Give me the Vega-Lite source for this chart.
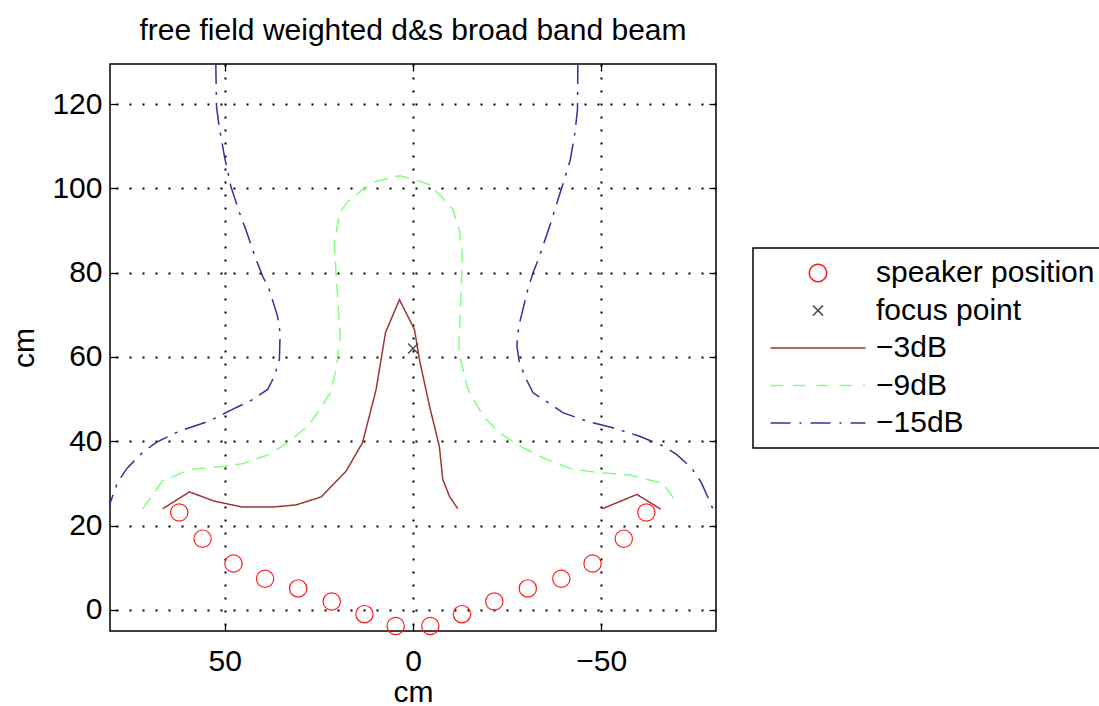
{
  "$schema": "https://vega.github.io/schema/vega-lite/v6.json",
  "width": 606,
  "height": 567,
  "autosize": {"type": "none"},
  "padding": {"left": 110, "top": 64, "right": 383, "bottom": 75},
  "background": "white",
  "title": {"text": "free field weighted d&s broad band beam", "anchor": "middle", "frame": "group", "font": "Liberation Sans", "fontSize": 30, "fontWeight": "normal", "color": "black", "baseline": "alphabetic", "offset": -7},
  "config": {
    "view": {"stroke": "black", "strokeWidth": 1.5},
    "axis": {
      "labelFont": "Liberation Sans", "labelFontSize": 30, "labelColor": "black",
      "titleFont": "Liberation Sans", "titleFontSize": 30, "titleFontWeight": "normal", "titleColor": "black",
      "domain": false, "tickColor": "black", "tickSize": -7, "tickWidth": 1.3,
      "gridColor": "black", "gridDash": [2, 11], "gridWidth": 2, "gridOpacity": 1
    },
    "legend": {
      "title": null, "orient": "none", "legendX": 643, "legendY": 184,
      "padding": 10, "strokeColor": "black", "fillColor": "white",
      "labelFont": "Liberation Sans", "labelFontSize": 30, "labelColor": "black",
      "labelOffset": 43, "symbolOffset": 40, "rowPadding": 7.5, "labelLimit": 400
    }
  },
  "datasets": {
    "speakers": [
      {"series": "speaker position", "x": 62.1, "y": 23.1},
      {"series": "speaker position", "x": 55.9, "y": 16.9},
      {"series": "speaker position", "x": 47.7, "y": 11.0},
      {"series": "speaker position", "x": 39.3, "y": 7.4},
      {"series": "speaker position", "x": 30.5, "y": 5.1},
      {"series": "speaker position", "x": 21.6, "y": 2.0},
      {"series": "speaker position", "x": 12.9, "y": -1.0},
      {"series": "speaker position", "x": 4.6, "y": -3.8},
      {"series": "speaker position", "x": -4.6, "y": -3.8},
      {"series": "speaker position", "x": -13.0, "y": -1.0},
      {"series": "speaker position", "x": -21.6, "y": 2.0},
      {"series": "speaker position", "x": -30.5, "y": 5.1},
      {"series": "speaker position", "x": -39.4, "y": 7.4},
      {"series": "speaker position", "x": -47.7, "y": 11.0},
      {"series": "speaker position", "x": -56.0, "y": 16.9},
      {"series": "speaker position", "x": -62.0, "y": 23.1}
    ],
    "focus": [
      {"series": "focus point", "x": 0, "y": 62}
    ],
    "contours": [
      {"series": "−3dB", "seg": "a", "i": 1, "x": 66.5, "y": 24.0},
      {"series": "−3dB", "seg": "a", "i": 2, "x": 59.4, "y": 28.0},
      {"series": "−3dB", "seg": "a", "i": 3, "x": 52.8, "y": 25.8},
      {"series": "−3dB", "seg": "a", "i": 4, "x": 45.3, "y": 24.4},
      {"series": "−3dB", "seg": "a", "i": 5, "x": 37.3, "y": 24.4},
      {"series": "−3dB", "seg": "a", "i": 6, "x": 31.1, "y": 24.9},
      {"series": "−3dB", "seg": "a", "i": 7, "x": 24.4, "y": 26.8},
      {"series": "−3dB", "seg": "a", "i": 8, "x": 17.8, "y": 32.9},
      {"series": "−3dB", "seg": "a", "i": 9, "x": 13.4, "y": 39.7},
      {"series": "−3dB", "seg": "a", "i": 10, "x": 9.8, "y": 52.3},
      {"series": "−3dB", "seg": "a", "i": 11, "x": 7.3, "y": 65.8},
      {"series": "−3dB", "seg": "a", "i": 12, "x": 3.6, "y": 73.6},
      {"series": "−3dB", "seg": "a", "i": 13, "x": -0.4, "y": 66.5},
      {"series": "−3dB", "seg": "a", "i": 14, "x": -1.7, "y": 59.4},
      {"series": "−3dB", "seg": "a", "i": 15, "x": -4.4, "y": 48.3},
      {"series": "−3dB", "seg": "a", "i": 16, "x": -7.0, "y": 38.8},
      {"series": "−3dB", "seg": "a", "i": 17, "x": -7.9, "y": 31.0},
      {"series": "−3dB", "seg": "a", "i": 18, "x": -9.7, "y": 26.9},
      {"series": "−3dB", "seg": "a", "i": 19, "x": -11.9, "y": 24.0},
      {"series": "−3dB", "seg": "b", "i": 20, "x": -50.3, "y": 24.0},
      {"series": "−3dB", "seg": "b", "i": 21, "x": -59.5, "y": 27.4},
      {"series": "−3dB", "seg": "b", "i": 22, "x": -65.8, "y": 23.9},

      {"series": "−9dB", "seg": "c", "i": 1, "x": 71.9, "y": 23.9},
      {"series": "−9dB", "seg": "c", "i": 2, "x": 66.5, "y": 30.6},
      {"series": "−9dB", "seg": "c", "i": 3, "x": 59.4, "y": 33.3},
      {"series": "−9dB", "seg": "c", "i": 4, "x": 49.9, "y": 34.1},
      {"series": "−9dB", "seg": "c", "i": 5, "x": 45.3, "y": 34.7},
      {"series": "−9dB", "seg": "c", "i": 6, "x": 38.2, "y": 36.9},
      {"series": "−9dB", "seg": "c", "i": 7, "x": 32.8, "y": 40.0},
      {"series": "−9dB", "seg": "c", "i": 8, "x": 27.5, "y": 44.0},
      {"series": "−9dB", "seg": "c", "i": 9, "x": 22.2, "y": 51.1},
      {"series": "−9dB", "seg": "c", "i": 10, "x": 20.4, "y": 57.0},
      {"series": "−9dB", "seg": "c", "i": 11, "x": 19.3, "y": 65.0},
      {"series": "−9dB", "seg": "c", "i": 12, "x": 20.4, "y": 79.1},
      {"series": "−9dB", "seg": "c", "i": 13, "x": 20.9, "y": 87.1},
      {"series": "−9dB", "seg": "c", "i": 14, "x": 19.5, "y": 94.2},
      {"series": "−9dB", "seg": "c", "i": 15, "x": 17.3, "y": 96.9},
      {"series": "−9dB", "seg": "c", "i": 16, "x": 13.4, "y": 99.7},
      {"series": "−9dB", "seg": "c", "i": 17, "x": 9.8, "y": 101.7},
      {"series": "−9dB", "seg": "c", "i": 18, "x": 3.6, "y": 103.0},
      {"series": "−9dB", "seg": "c", "i": 19, "x": 0.0, "y": 102.2},
      {"series": "−9dB", "seg": "c", "i": 20, "x": -4.4, "y": 100.9},
      {"series": "−9dB", "seg": "c", "i": 21, "x": -7.9, "y": 97.7},
      {"series": "−9dB", "seg": "c", "i": 22, "x": -10.6, "y": 95.0},
      {"series": "−9dB", "seg": "c", "i": 23, "x": -12.4, "y": 89.8},
      {"series": "−9dB", "seg": "c", "i": 24, "x": -13.1, "y": 83.9},
      {"series": "−9dB", "seg": "c", "i": 25, "x": -12.8, "y": 76.0},
      {"series": "−9dB", "seg": "c", "i": 26, "x": -12.2, "y": 63.4},
      {"series": "−9dB", "seg": "c", "i": 27, "x": -12.4, "y": 60.2},
      {"series": "−9dB", "seg": "c", "i": 28, "x": -14.6, "y": 52.3},
      {"series": "−9dB", "seg": "c", "i": 29, "x": -18.6, "y": 46.0},
      {"series": "−9dB", "seg": "c", "i": 30, "x": -23.0, "y": 42.0},
      {"series": "−9dB", "seg": "c", "i": 31, "x": -28.3, "y": 38.9},
      {"series": "−9dB", "seg": "c", "i": 32, "x": -34.5, "y": 36.1},
      {"series": "−9dB", "seg": "c", "i": 33, "x": -42.5, "y": 33.3},
      {"series": "−9dB", "seg": "c", "i": 34, "x": -49.6, "y": 32.6},
      {"series": "−9dB", "seg": "c", "i": 35, "x": -57.6, "y": 32.0},
      {"series": "−9dB", "seg": "c", "i": 36, "x": -66.4, "y": 30.0},
      {"series": "−9dB", "seg": "c", "i": 37, "x": -69.5, "y": 26.2},

      {"series": "−15dB", "seg": "d", "i": 1, "x": 52.4, "y": 130.0},
      {"series": "−15dB", "seg": "d", "i": 2, "x": 52.2, "y": 119.4},
      {"series": "−15dB", "seg": "d", "i": 3, "x": 51.5, "y": 114.7},
      {"series": "−15dB", "seg": "d", "i": 4, "x": 50.1, "y": 107.6},
      {"series": "−15dB", "seg": "d", "i": 5, "x": 48.4, "y": 100.5},
      {"series": "−15dB", "seg": "d", "i": 6, "x": 46.1, "y": 94.2},
      {"series": "−15dB", "seg": "d", "i": 7, "x": 44.4, "y": 90.2},
      {"series": "−15dB", "seg": "d", "i": 8, "x": 41.7, "y": 83.1},
      {"series": "−15dB", "seg": "d", "i": 9, "x": 39.9, "y": 79.1},
      {"series": "−15dB", "seg": "d", "i": 10, "x": 38.2, "y": 76.0},
      {"series": "−15dB", "seg": "d", "i": 11, "x": 36.0, "y": 69.7},
      {"series": "−15dB", "seg": "d", "i": 12, "x": 35.3, "y": 65.7},
      {"series": "−15dB", "seg": "d", "i": 13, "x": 35.5, "y": 59.4},
      {"series": "−15dB", "seg": "d", "i": 14, "x": 36.8, "y": 55.5},
      {"series": "−15dB", "seg": "d", "i": 15, "x": 38.6, "y": 52.3},
      {"series": "−15dB", "seg": "d", "i": 16, "x": 42.6, "y": 49.9},
      {"series": "−15dB", "seg": "d", "i": 17, "x": 48.8, "y": 47.2},
      {"series": "−15dB", "seg": "d", "i": 18, "x": 54.1, "y": 44.8},
      {"series": "−15dB", "seg": "d", "i": 19, "x": 62.1, "y": 42.4},
      {"series": "−15dB", "seg": "d", "i": 20, "x": 68.3, "y": 39.7},
      {"series": "−15dB", "seg": "d", "i": 21, "x": 71.9, "y": 37.3},
      {"series": "−15dB", "seg": "d", "i": 22, "x": 75.9, "y": 33.7},
      {"series": "−15dB", "seg": "d", "i": 23, "x": 78.5, "y": 30.2},
      {"series": "−15dB", "seg": "d", "i": 24, "x": 80.3, "y": 25.8},
      {"series": "−15dB", "seg": "d", "i": 25, "x": 81.5, "y": 22.5},
      {"series": "−15dB", "seg": "e", "i": 26, "x": -43.8, "y": 130.0},
      {"series": "−15dB", "seg": "e", "i": 27, "x": -43.7, "y": 118.7},
      {"series": "−15dB", "seg": "e", "i": 28, "x": -43.0, "y": 113.1},
      {"series": "−15dB", "seg": "e", "i": 29, "x": -41.8, "y": 106.8},
      {"series": "−15dB", "seg": "e", "i": 30, "x": -39.8, "y": 100.9},
      {"series": "−15dB", "seg": "e", "i": 31, "x": -38.5, "y": 97.3},
      {"series": "−15dB", "seg": "e", "i": 32, "x": -36.3, "y": 91.0},
      {"series": "−15dB", "seg": "e", "i": 33, "x": -33.6, "y": 83.9},
      {"series": "−15dB", "seg": "e", "i": 34, "x": -31.9, "y": 80.0},
      {"series": "−15dB", "seg": "e", "i": 35, "x": -30.5, "y": 76.0},
      {"series": "−15dB", "seg": "e", "i": 36, "x": -29.2, "y": 71.3},
      {"series": "−15dB", "seg": "e", "i": 37, "x": -28.1, "y": 67.3},
      {"series": "−15dB", "seg": "e", "i": 38, "x": -27.6, "y": 62.6},
      {"series": "−15dB", "seg": "e", "i": 39, "x": -28.3, "y": 58.6},
      {"series": "−15dB", "seg": "e", "i": 40, "x": -30.1, "y": 54.7},
      {"series": "−15dB", "seg": "e", "i": 41, "x": -31.9, "y": 51.5},
      {"series": "−15dB", "seg": "e", "i": 42, "x": -35.4, "y": 49.5},
      {"series": "−15dB", "seg": "e", "i": 43, "x": -39.8, "y": 46.8},
      {"series": "−15dB", "seg": "e", "i": 44, "x": -46.1, "y": 44.8},
      {"series": "−15dB", "seg": "e", "i": 45, "x": -53.1, "y": 43.2},
      {"series": "−15dB", "seg": "e", "i": 46, "x": -60.2, "y": 41.2},
      {"series": "−15dB", "seg": "e", "i": 47, "x": -66.4, "y": 38.9},
      {"series": "−15dB", "seg": "e", "i": 48, "x": -70.0, "y": 36.9},
      {"series": "−15dB", "seg": "e", "i": 49, "x": -74.0, "y": 33.7},
      {"series": "−15dB", "seg": "e", "i": 50, "x": -76.6, "y": 30.2},
      {"series": "−15dB", "seg": "e", "i": 51, "x": -78.4, "y": 26.6},
      {"series": "−15dB", "seg": "e", "i": 52, "x": -79.7, "y": 23.9},
      {"series": "−15dB", "seg": "e", "i": 53, "x": -81.5, "y": 21.0}
    ]
  },
  "encoding": {
    "color": {
      "field": "series", "type": "nominal",
      "scale": {
        "domain": ["speaker position", "focus point", "−3dB", "−9dB", "−15dB"],
        "range": ["#ff1a1a", "#444444", "#9e3535", "#80ff80", "#30309f"]
      },
      "legend": {
        "encode": {
          "legend": {"update": {"strokeWidth": {"value": 1.5}}},
          "symbols": {
            "update": {
              "shape": {"signal": "datum.value === 'speaker position' ? 'circle' : datum.value === 'focus point' ? 'M-1,-1L1,1M1,-1L-1,1' : 'M-5,0L5,0'"},
              "size": {"signal": "datum.value === 'speaker position' ? 300 : datum.value === 'focus point' ? 100 : 361"},
              "strokeDash": {"signal": "datum.value === '−9dB' ? [12, 11] : datum.value === '−15dB' ? [20, 9, 2, 9] : [1, 0]"},
              "fill": {"value": "transparent"},
              "stroke": {"scale": "color", "field": "value"},
              "strokeWidth": {"value": 1.5},
              "opacity": {"value": 1}
            }
          }
        }
      }
    }
  },
  "layer": [
    {
      "data": {"name": "contours"},
      "mark": {"type": "line", "strokeWidth": 1.5, "clip": true},
      "encoding": {
        "x": {
          "field": "x", "type": "quantitative",
          "scale": {"domain": [-80.5, 80.5], "reverse": true, "nice": false, "zero": false},
          "axis": {"orient": "bottom", "values": [-50, 0, 50], "title": "cm", "labelPadding": 22, "titlePadding": 1, "grid": true}
        },
        "y": {
          "field": "y", "type": "quantitative",
          "scale": {"domain": [-5, 129.5], "nice": false, "zero": false},
          "axis": {"orient": "left", "values": [0, 20, 40, 60, 80, 100, 120], "title": "cm", "labelPadding": 15, "titlePadding": 12, "grid": true}
        },
        "detail": {"field": "seg", "type": "nominal"},
        "order": {"field": "i", "type": "quantitative"},
        "strokeDash": {
          "field": "series", "type": "nominal",
          "scale": {"domain": ["−3dB", "−9dB", "−15dB"], "range": [[1, 0], [14, 8], [22, 8, 3, 8]]},
          "legend": null
        }
      }
    },
    {
      "data": {"name": "speakers"},
      "mark": {"type": "point", "shape": "circle", "filled": false, "size": 300, "strokeWidth": 1.2, "opacity": 1},
      "encoding": {
        "x": {"field": "x", "type": "quantitative", "axis": null},
        "y": {"field": "y", "type": "quantitative", "axis": null}
      }
    },
    {
      "data": {"name": "focus"},
      "mark": {"type": "point", "shape": "M-1,-1L1,1M1,-1L-1,1", "filled": false, "size": 100, "strokeWidth": 1.3, "opacity": 1},
      "encoding": {
        "x": {"field": "x", "type": "quantitative", "axis": {"orient": "top", "values": [-50, 0, 50], "labels": false, "title": null, "grid": false}},
        "y": {"field": "y", "type": "quantitative", "axis": {"orient": "right", "values": [0, 20, 40, 60, 80, 100, 120], "labels": false, "title": null, "grid": false}}
      }
    }
  ]
}
